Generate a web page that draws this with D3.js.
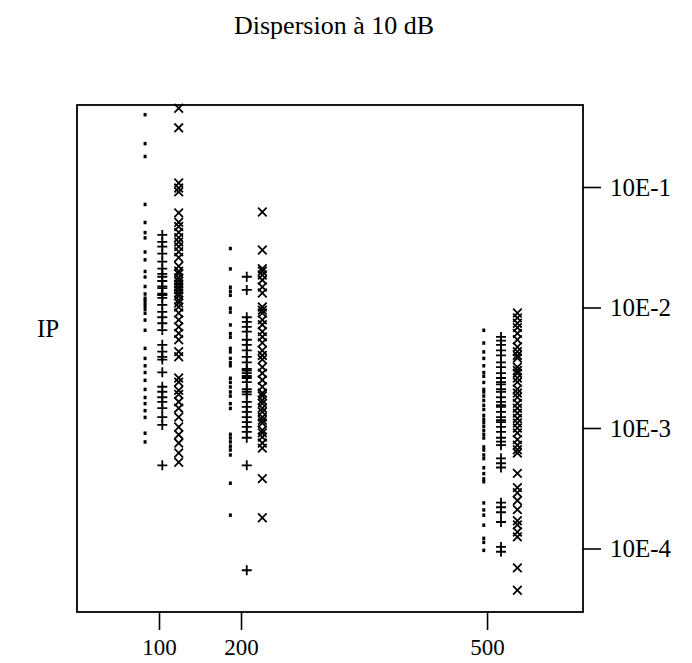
<!DOCTYPE html>
<html>
<head>
<meta charset="utf-8">
<script src="https://cdn.jsdelivr.net/npm/d3@7"></script>
<style>
  body { margin: 0; background: #fff; }
  text { font-family: "Liberation Serif", "Times New Roman", serif; fill: #000; }
</style>
</head>
<body>
<div id="chart"></div>
<script>
// Chart size
const width = 692;
const height = 663;

// Groups on the x axis and the position of each symbol column (x units)
const groups = [100, 200, 500];
const dotX = [83, 187, 496];
const plusX = [104, 207, 517];
const crossX = [124, 226, 537];

// Right axis ticks
const yTicks = [1e-1, 1e-2, 1e-3, 1e-4];
const yTickLabels = ['10E-1', '10E-2', '10E-3', '10E-4'];

// IP values, one array per group and symbol
const dot100 = [0.40, 0.23, 0.18, 0.072, 0.051, 0.042, 0.038, 0.029, 0.025, 0.020, 0.018, 0.015, 0.013, 0.012,
  0.0115, 0.0109, 0.0103, 0.0097, 0.0090, 0.0079, 0.0065, 0.0046, 0.0038, 0.0033, 0.0029, 0.0025, 0.0021,
  0.0018, 0.0016, 0.0014, 0.00123, 0.00091, 0.00077];
const plus100 = [0.040, 0.035, 0.032, 0.028, 0.024, 0.021, 0.019, 0.018, 0.0166, 0.015, 0.0145, 0.013, 0.0127,
  0.012, 0.0105, 0.0092, 0.0083, 0.0074, 0.0065, 0.0049, 0.0043, 0.0039, 0.0037, 0.0029, 0.0022, 0.0020,
  0.0018, 0.00165, 0.00146, 0.00123, 0.00106, 0.00049];
const cross100 = [0.45, 0.31, 0.108, 0.098, 0.091, 0.061, 0.051, 0.047, 0.042, 0.038, 0.035, 0.032, 0.029, 0.026,
  0.022, 0.020, 0.019, 0.0176, 0.0166, 0.0157, 0.0148, 0.014, 0.0132, 0.0125, 0.0115, 0.0109, 0.0101, 0.0090,
  0.0079, 0.0069, 0.0061, 0.0054, 0.0043, 0.0039, 0.0026, 0.0024, 0.00205, 0.0019, 0.00165, 0.00146, 0.00123,
  0.00102, 0.00088, 0.00075, 0.00062, 0.00052];

const dot200 = [0.031, 0.021, 0.0148, 0.0137, 0.0127, 0.0099, 0.0092, 0.0072, 0.0061, 0.0057, 0.0046, 0.0043,
  0.0038, 0.0035, 0.0033, 0.0026, 0.0024, 0.0022, 0.0020, 0.00185, 0.0016, 0.00146, 0.00089, 0.00083, 0.00077,
  0.00071, 0.00066, 0.00060, 0.00035, 0.00019];
const plus200 = [0.018, 0.014, 0.0083, 0.0076, 0.0069, 0.0063, 0.0054, 0.0049, 0.0044, 0.0039, 0.0035, 0.0031,
  0.0030, 0.00285, 0.0027, 0.0026, 0.0024, 0.0021, 0.0020, 0.0019, 0.00165, 0.0015, 0.00136, 0.00123, 0.00112,
  0.00102, 0.00093, 0.00083, 0.00049, 0.000066];
const cross200 = [0.062, 0.030, 0.021, 0.020, 0.0186, 0.0169, 0.0148, 0.0132, 0.0101, 0.0095, 0.0090, 0.0079,
  0.0072, 0.0063, 0.0057, 0.0051, 0.0044, 0.0040, 0.0037, 0.0032, 0.00285, 0.0025, 0.0022, 0.00195, 0.00185,
  0.0017, 0.0016, 0.00146, 0.00136, 0.00123, 0.00116, 0.0011, 0.00096, 0.00091, 0.00084, 0.00075, 0.00068,
  0.00038, 0.00018];

const dot500 = [0.0065, 0.0051, 0.0043, 0.0038, 0.0033, 0.0029, 0.0027, 0.0024, 0.0021, 0.0020, 0.00185, 0.0017,
  0.00155, 0.00143, 0.00128, 0.00119, 0.00112, 0.00104, 0.00096, 0.00089, 0.00083, 0.00070, 0.00066, 0.00060,
  0.00056, 0.00047, 0.00042, 0.00038, 0.00036, 0.00024, 0.00021, 0.00019, 0.000157, 0.000122, 0.000113, 0.000097];
const plus500 = [0.0057, 0.0053, 0.0049, 0.0044, 0.0040, 0.0035, 0.0032, 0.00285, 0.0026, 0.0024, 0.0023, 0.0021,
  0.0020, 0.0018, 0.00165, 0.00155, 0.0015, 0.00136, 0.00123, 0.00116, 0.00112, 0.00102, 0.00093, 0.00083,
  0.00077, 0.00072, 0.00056, 0.00051, 0.00047, 0.00024, 0.00022, 0.00020, 0.000166, 0.000103, 0.000094];
const cross500 = [0.0090, 0.0082, 0.0074, 0.0068, 0.0061, 0.0054, 0.0047, 0.0043, 0.0040, 0.0038, 0.0032, 0.0030,
  0.00285, 0.0026, 0.0024, 0.0021, 0.00195, 0.0018, 0.0016, 0.00146, 0.00133, 0.0012, 0.0011, 0.0010, 0.00091,
  0.00080, 0.00072, 0.00066, 0.00062, 0.00042, 0.00032, 0.00029, 0.00025, 0.00021, 0.00017, 0.000157,
  0.000137, 0.000125, 0.000069, 0.000045];

const dots = [dot100, dot200, dot500];
const pluses = [plus100, plus200, plus500];
const crosses = [cross100, cross200, cross500];

// Plot box
const boxLeft = 77, boxRight = 583, boxTop = 105, boxBottom = 612;

const x = d3.scaleLinear().domain([0, 617]).range([boxLeft, boxRight]);
const y = d3.scaleLog().domain([1e-4, 1e-1]).range([548.5, 187]);

const svg = d3.select('#chart').append('svg')
    .attr('width', width)
    .attr('height', height);

// Title
svg.append('text')
    .attr('x', 334)
    .attr('y', 34)
    .attr('text-anchor', 'middle')
    .style('font-size', '26px')
    .text('Dispersion à 10 dB');

// Y label
svg.append('text')
    .attr('x', 37)
    .attr('y', 337)
    .style('font-size', '25px')
    .text('IP');

// Frame
svg.append('rect')
    .attr('x', boxLeft)
    .attr('y', boxTop)
    .attr('width', boxRight - boxLeft)
    .attr('height', boxBottom - boxTop)
    .attr('fill', 'none')
    .attr('stroke', '#000')
    .attr('stroke-width', 1.8);

// Right axis
const yAxis = svg.append('g')
    .attr('transform', `translate(${boxRight},0)`)
    .call(d3.axisRight(y).tickValues(yTicks).tickSize(18).tickPadding(9)
        .tickFormat((d, i) => yTickLabels[i]));
yAxis.select('.domain').remove();
yAxis.selectAll('line').attr('stroke-width', 1.6);
yAxis.selectAll('text').style('font-size', '25px').style('font-family', '"Liberation Serif", serif');

// Bottom axis
const xAxis = svg.append('g')
    .attr('transform', `translate(0,${boxBottom})`)
    .call(d3.axisBottom(x).tickValues(groups).tickSize(18).tickPadding(9));
xAxis.select('.domain').remove();
xAxis.selectAll('line').attr('stroke-width', 1.6);
xAxis.selectAll('text').style('font-size', '23px').style('font-family', '"Liberation Serif", serif');

// Symbols
const marks = svg.append('g');

dots.forEach((vals, g) => {
  marks.selectAll(null)
      .data(vals)
      .enter().append('rect')
      .attr('x', x(dotX[g]) - 1.5)
      .attr('y', d => y(d) - 1.5)
      .attr('width', 3)
      .attr('height', 3.5)
      .attr('fill', '#000');
});

pluses.forEach((vals, g) => {
  marks.selectAll(null)
      .data(vals)
      .enter().append('path')
      .attr('transform', d => `translate(${x(plusX[g])},${y(d)})`)
      .attr('d', 'M-5,0H5M0,-5V5')
      .attr('stroke', '#000')
      .attr('stroke-width', 1.8)
      .attr('fill', 'none');
});

crosses.forEach((vals, g) => {
  marks.selectAll(null)
      .data(vals)
      .enter().append('path')
      .attr('transform', d => `translate(${x(crossX[g])},${y(d)})`)
      .attr('d', 'M-4.3,-4.3L4.3,4.3M-4.3,4.3L4.3,-4.3')
      .attr('stroke', '#000')
      .attr('stroke-width', 1.8)
      .attr('fill', 'none');
});
</script>
</body>
</html>
